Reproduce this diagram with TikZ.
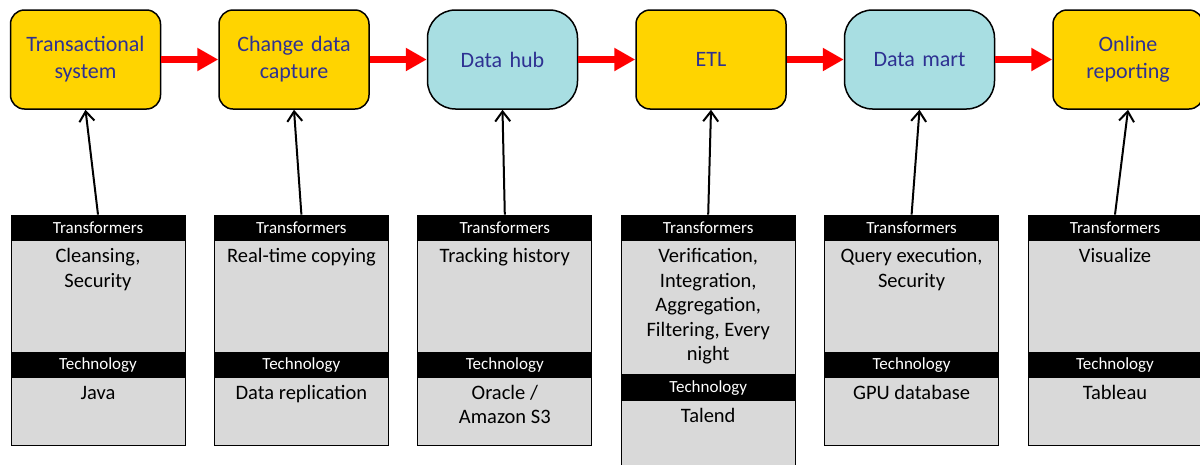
\documentclass[tikz,border=0pt]{standalone}
\usepackage{fontspec}
\setmainfont{Carlito}
\usepackage{tikz}
\usetikzlibrary{positioning,arrows.meta}
\definecolor{boxgold}{RGB}{255,212,0}
\definecolor{boxcyan}{RGB}{168,222,226}
\definecolor{labelblue}{RGB}{46,49,146}
\definecolor{cellgray}{RGB}{217,217,217}
\newcommand{\celltext}[2]{\parbox[t][#1][t]{170pt}{\centering\rule{0pt}{19pt}#2}}

\begin{document}
\begin{tikzpicture}[x=1pt, y=1pt, node distance=57pt]
    \tikzstyle{stage} = [rectangle, rounded corners=14pt, draw, line width=1.5pt, fill=boxgold, text=labelblue, text width=140pt, align=center, minimum width=150pt, minimum height=99pt, inner sep=0pt, font=\fontsize{22}{27}\selectfont]
    \tikzstyle{store} = [stage, rounded corners=28pt, fill=boxcyan]
    \tikzstyle{head} = [rectangle, draw, line width=0.8pt, fill=black, text=white, minimum width=174pt, minimum height=25pt, inner sep=0pt, font=\fontsize{17}{20}\selectfont]
    \tikzstyle{cell} = [rectangle, draw, line width=0.8pt, fill=cellgray, inner xsep=2pt, inner ysep=3pt, font=\fontsize{20.5}{24.5}\selectfont]
    \tikzstyle{flow} = [line width=7pt, red, -{Triangle[length=21pt,width=22pt]}]
    \tikzstyle{feed} = [line width=2pt, -{Straight Barb[length=10pt,width=15pt]}]

    \useasboundingbox (0,0) rectangle (1200,-464);

    % pipeline
    \node [stage] (src) at (85.5,-59.5) {Transactional\\system};
    \node [stage, right=of src] (cdc) {Change data\\capture};
    \node [store, right=of cdc] (hub) {Data hub};
    \node [stage, right=of hub] (etl) {ETL};
    \node [store, right=of etl] (mart) {Data mart};
    \node [stage, right=of mart] (report) {Online\\reporting};

    \draw [flow] (src) -- (cdc);
    \draw [flow] (cdc) -- (hub);
    \draw [flow] (hub) -- (etl);
    \draw [flow] (etl) -- (mart);
    \draw [flow] (mart) -- (report);

    % transformers / technology cards
    \node [head] (tr1) at (98,-227.5) {Transformers};
    \node [cell, below=0pt of tr1] (trb1) {\celltext{106pt}{Cleansing,\\Security}};
    \node [head, below=0pt of trb1, minimum height=23pt] (te1) {Technology};
    \node [cell, below=0pt of te1] (teb1) {\celltext{62pt}{Java}};

    \node [head, right=28.6pt of tr1] (tr2) {Transformers};
    \node [cell, below=0pt of tr2] (trb2) {\celltext{106pt}{Real-time copying}};
    \node [head, below=0pt of trb2, minimum height=23pt] (te2) {Technology};
    \node [cell, below=0pt of te2] (teb2) {\celltext{62pt}{Data replication}};

    \node [head, right=28.6pt of tr2] (tr3) {Transformers};
    \node [cell, below=0pt of tr3] (trb3) {\celltext{106pt}{Tracking history}};
    \node [head, below=0pt of trb3, minimum height=23pt] (te3) {Technology};
    \node [cell, below=0pt of te3] (teb3) {\celltext{62pt}{Oracle /\\Amazon S3}};

    \node [head, right=28.6pt of tr3] (tr4) {Transformers};
    \node [cell, below=0pt of tr4] (trb4) {\celltext{128pt}{Verification,\\Integration,\\Aggregation,\\Filtering, Every\\night}};
    \node [head, below=0pt of trb4, minimum height=24pt] (te4) {Technology};
    \node [cell, below=0pt of te4] (teb4) {\celltext{80pt}{Talend}};

    \node [head, right=28.6pt of tr4] (tr5) {Transformers};
    \node [cell, below=0pt of tr5] (trb5) {\celltext{106pt}{Query execution,\\Security}};
    \node [head, below=0pt of trb5, minimum height=23pt] (te5) {Technology};
    \node [cell, below=0pt of te5] (teb5) {\celltext{62pt}{GPU database}};

    \node [head, right=28.6pt of tr5] (tr6) {Transformers};
    \node [cell, below=0pt of tr6] (trb6) {\celltext{106pt}{Visualize}};
    \node [head, below=0pt of trb6, minimum height=23pt] (te6) {Technology};
    \node [cell, below=0pt of te6] (teb6) {\celltext{62pt}{Tableau}};

    \draw [feed] (tr1.north) -- (src.south);
    \draw [feed] (tr2.north) -- (cdc.south);
    \draw [feed] (tr3.north) -- (hub.south);
    \draw [feed] (tr4.north) -- (etl.south);
    \draw [feed] (tr5.north) -- (mart.south);
    \draw [feed] (tr6.north) -- (report.south);
\end{tikzpicture}
\end{document}
